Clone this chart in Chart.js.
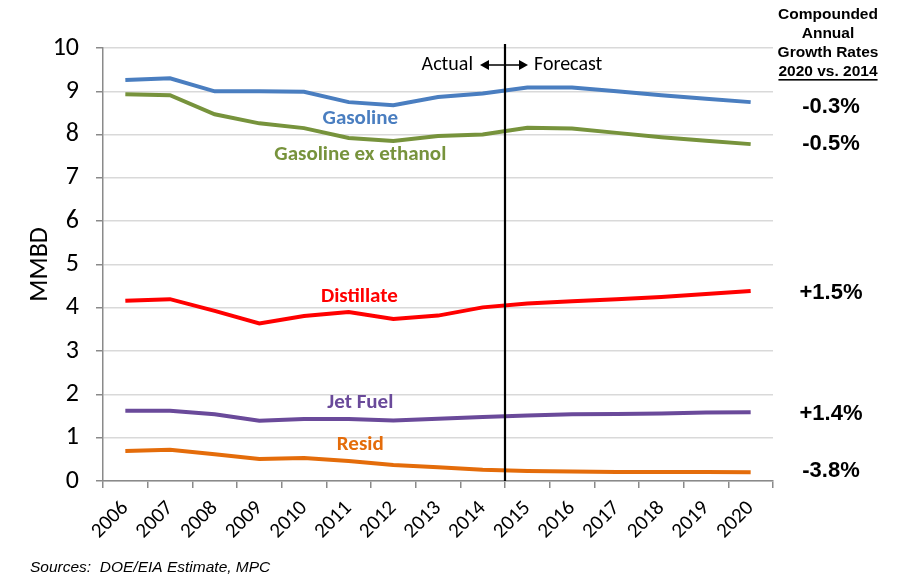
<!DOCTYPE html>
<html><head><meta charset="utf-8">
<script src="https://cdn.jsdelivr.net/npm/chart.js@4/dist/chart.umd.min.js"></script>
<style>html,body{margin:0;padding:0;background:#fff}#wrap{width:901px;height:578px}</style>
</head><body><div id="wrap"><canvas id="c" width="901" height="578"></canvas></div>
<script>
const years = ['2006','2007','2008','2009','2010','2011','2012','2013','2014','2015','2016','2017','2018','2019','2020'];
const gasoline = [9.26,9.30,9.00,9.00,8.99,8.75,8.68,8.87,8.95,9.09,9.09,9.00,8.91,8.83,8.75];
const gasolineExEthanol = [8.93,8.91,8.47,8.26,8.15,7.92,7.85,7.97,8.00,8.16,8.14,8.04,7.94,7.86,7.78];
const distillate = [4.16,4.20,3.93,3.64,3.81,3.90,3.74,3.82,4.01,4.10,4.15,4.20,4.25,4.32,4.39];
const jetFuel = [1.62,1.62,1.54,1.39,1.43,1.43,1.40,1.44,1.48,1.51,1.54,1.55,1.56,1.58,1.59];
const resid = [0.69,0.72,0.62,0.51,0.53,0.46,0.37,0.32,0.26,0.23,0.22,0.21,0.21,0.21,0.20];
const yTicks = [0,1,2,3,4,5,6,7,8,9,10];
const growthRates = ['-0.3%','-0.5%','+1.5%','+1.4%','-3.8%'];
const growthAnchors = [8.64, 7.78, 4.35, 1.55, 0.24];
const seriesNames = ['Gasoline','Gasoline ex ethanol','Distillate','Jet Fuel','Resid'];
const seriesColors = ['#4A7EC0','#77933C','#FF0000','#6A4A9A','#E46C0A'];
const labelPos = [[5.26,8.36],[5.26,7.53],[5.24,4.25],[5.26,1.80],[5.26,0.83]];

const calibri = "Carlito, Lato, 'Open Sans', sans-serif";
const arial = "'Liberation Sans', Arial, sans-serif";

const overlay = {
  id:'overlay',
  afterDatasetsDraw(chart){
    const ctx = chart.ctx, xs = chart.scales.x, ys = chart.scales.y, a = chart.chartArea;
    ctx.save();
    ctx.textAlign='center'; ctx.textBaseline='middle';
    ctx.font = "bold 21px " + calibri;
    seriesNames.forEach((n,i)=>{
      ctx.fillStyle = seriesColors[i];
      ctx.fillText(n, xs.getPixelForValue(labelPos[i][0]), ys.getPixelForValue(labelPos[i][1]));
    });
    const xd = (xs.getPixelForValue(8)+xs.getPixelForValue(9))/2;
    ctx.strokeStyle='#000'; ctx.lineWidth=2.2;
    ctx.beginPath(); ctx.moveTo(xd, a.top-4); ctx.lineTo(xd, a.bottom); ctx.stroke();
    const ya = a.top + 17;
    ctx.fillStyle='#000'; ctx.font = "20px " + calibri;
    ctx.textAlign='right'; ctx.fillText('Actual', xd-32, ya);
    ctx.textAlign='left'; ctx.fillText('Forecast', xd+29, ya);
    ctx.lineWidth=1.6;
    ctx.beginPath(); ctx.moveTo(xd-22, ya); ctx.lineTo(xd+20, ya); ctx.stroke();
    [[-25,1],[23,-1]].forEach(([dx,s])=>{
      ctx.beginPath(); ctx.moveTo(xd+dx, ya); ctx.lineTo(xd+dx+s*9, ya-5); ctx.lineTo(xd+dx+s*9, ya+5); ctx.closePath(); ctx.fill();
    });
    const cx = 828;
    ctx.textAlign='center'; ctx.font = "bold 15.5px " + arial;
    ['Compounded','Annual','Growth Rates','2020 vs. 2014'].forEach((t,i)=>{
      ctx.fillText(t, cx, 15 + i*18.8);
    });
    const w = ctx.measureText('2020 vs. 2014').width;
    ctx.fillRect(cx - w/2, 79, w, 1.6);
    ctx.font = "bold 22px " + arial;
    growthRates.forEach((t,i)=>{
      ctx.fillText(t, 831, ys.getPixelForValue(growthAnchors[i]));
    });
    ctx.textAlign='left'; ctx.font = "italic 15.5px " + arial;
    ctx.fillText('Sources:  DOE/EIA Estimate, MPC', 30, 568);
    ctx.restore();
  }
};

const mk = (d,i)=>({label:seriesNames[i], data:d, borderColor:seriesColors[i], backgroundColor:seriesColors[i],
  borderWidth:4, pointRadius:0, tension:0, fill:false});

new Chart(document.getElementById('c'), {
  type:'line',
  data:{labels:years, datasets:[gasoline,gasolineExEthanol,distillate,jetFuel,resid].map(mk)},
  options:{
    responsive:false, animation:false,
    layout:{padding:{left:0,right:128,top:48,bottom:0}},
    plugins:{legend:{display:false}, tooltip:{enabled:false}},
    scales:{
      x:{offset:true,
        grid:{display:true, drawOnChartArea:false, drawTicks:true, tickLength:7, color:'#8A8A8A', lineWidth:1.5, offset:true},
        border:{color:'#8A8A8A', width:1.5},
        ticks:{minRotation:45,maxRotation:45,color:'#000',font:{family:calibri,size:21},padding:8},
        afterFit(s){s.height=97;}
      },
      y:{min:0,max:10,
        afterBuildTicks(s){s.ticks = yTicks.map(v=>({value:v}));},
        grid:{color:'#D9D9D9', lineWidth:1.5, tickLength:7, tickColor:'#8A8A8A'},
        border:{color:'#8A8A8A', width:1.5},
        ticks:{color:'#000',font:{family:calibri,size:26},padding:17},
        title:{display:true,text:'MMBD',color:'#000',font:{family:calibri,size:26},padding:{top:25,bottom:0}},
        afterFit(s){s.width=103;}
      }
    }
  },
  plugins:[overlay]
});
</script></body></html>
